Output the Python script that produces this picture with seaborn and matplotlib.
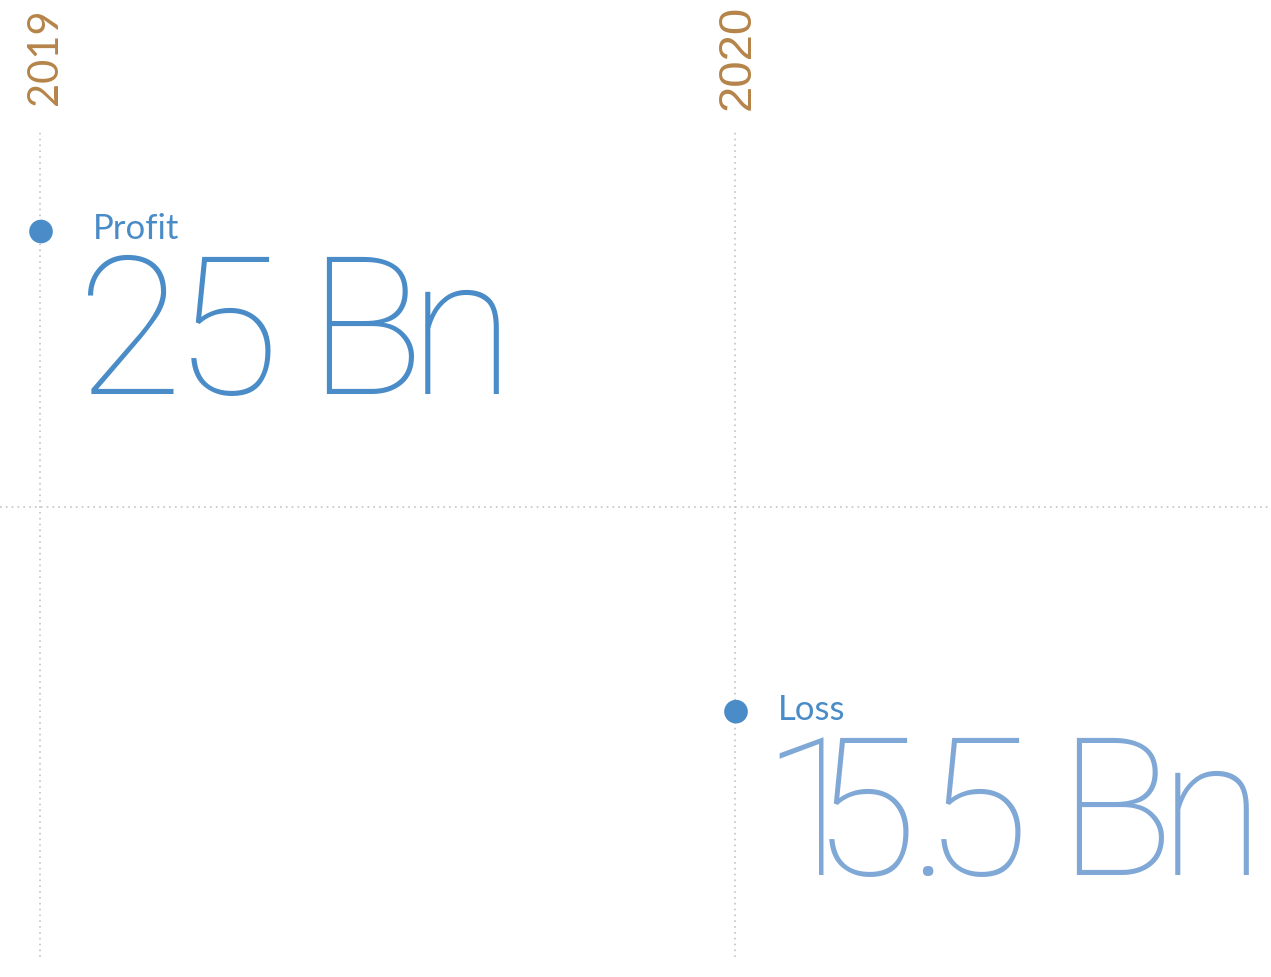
import matplotlib
matplotlib.use('Agg')
import matplotlib.pyplot as plt
from matplotlib.font_manager import FontProperties, findfont, get_font
import seaborn as sns
import pandas as pd

# values
years = ['2019', '2020']
labels = ['Profit', 'Loss']
values = [25, 15.5]
value_text = ['25 Bn', '15.5 Bn']

df = pd.DataFrame({'year': years, 'label': labels, 'value': values})
df['pos'] = range(len(df))

sns.set_theme(style='white')
plt.rcParams['font.family'] = ['Roboto', 'DejaVu Sans']

DOT = '#4a8cc8'
BIG = ['#4a8cc8', '#80a8d6']
GOLD = '#b5844a'
GRID = '#c4c4c4'
DPI = 100

fig = plt.figure(figsize=(12.71, 9.78), dpi=DPI)
ax = fig.add_axes([0, 0, 1, 1])
ax.set_axis_off()

# scale: 695 px per year, ~50.6 px per Bn
ax.set_xlim(-41 / 695, 1 + 535 / 695)
ax.set_ylim(10.25, 29.6)

ax.vlines(df['pos'] - 1 / 695, 10.64, 27.0, color=GRID, linestyle=(0, (1, 2.5)),
          lw=1.2, zorder=1)
ax.axhline(19.55, color=GRID, linestyle=(0, (1, 2.5)), lw=1.2, zorder=1)

sns.scatterplot(data=df, x='pos', y='value', s=290, color=DOT, edgecolor='none',
                ax=ax, zorder=3, legend=False)

big_fp = FontProperties(family='Roboto', weight='light', size=139)
big_font = get_font(findfont(big_fp))
big_font.set_size(139, DPI)

# tight letter spacing of the big figures; '1' and '.' set narrow
narrow = {'1': -46, '.': -17, 'B': -6}


def tracked(s, xy, dx, dy, color, track=-9):
    x = dx
    for ch in s:
        if ch != ' ':
            ax.annotate(ch, xy, xytext=(x, dy), textcoords='offset pixels',
                        ha='left', va='baseline', fontproperties=big_fp, color=color)
        g = big_font.load_char(ord(ch))
        x += g.linearHoriAdvance / 65536 + track + narrow.get(ch, 0)


year_style = [('Lato', 30, 4, 26), ('Liberation Sans', 34, 2, 21)]
label_dx = [52, 42]
big_dx = [36, 25]
for i, r in df.iterrows():
    fam, fs, ox, oy = year_style[i]
    ax.annotate(r['year'], (r['pos'], 27.0), xytext=(ox, oy), textcoords='offset pixels',
                rotation=90, ha='center', va='bottom', fontsize=fs, color=GOLD,
                family=fam)
    ax.annotate(r['label'], (r['pos'], r['value']), xytext=(label_dx[i], -7),
                textcoords='offset pixels', ha='left', va='baseline',
                fontsize=25, color=DOT, family=['Lato', 'DejaVu Sans'])
    tracked(value_text[i], (r['pos'], r['value']), big_dx[i], -162, BIG[i])

fig.savefig('out.png', dpi=DPI)
